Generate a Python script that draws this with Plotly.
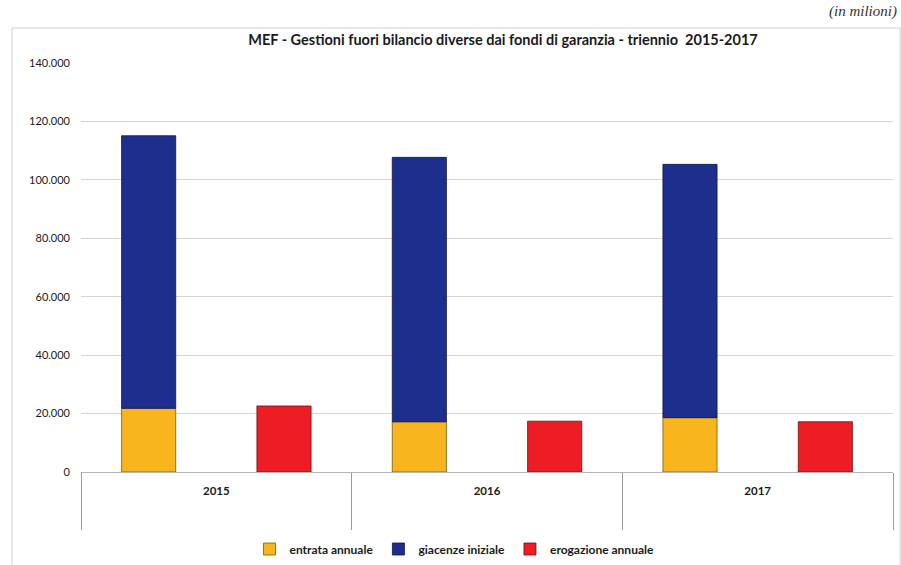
import plotly.graph_objects as go

# Gestioni fuori bilancio MEF, importi in milioni
anni = ["2015", "2016", "2017"]
entrata_annuale = [21800, 17200, 18600]
giacenze_iniziale = [93300, 90500, 86700]
erogazione_annuale = [22600, 17400, 17200]

y_ticks = [0, 20000, 40000, 60000, 80000, 100000, 120000, 140000]

FONT = "Lato, 'Open Sans', sans-serif"
ORANGE = "#F9B51E"
NAVY = "#1E2E8C"
RED = "#EE1C24"

fig = go.Figure()

# Colonna sinistra: entrata annuale con le giacenze impilate sopra
fig.add_trace(go.Bar(
    name="entrata annuale", x=anni, y=entrata_annuale,
    offset=-0.35, width=0.2,
    marker=dict(color=ORANGE, line=dict(color="#7a5a10", width=0.8)),
))
fig.add_trace(go.Bar(
    name="giacenze iniziale", x=anni, y=giacenze_iniziale,
    base=entrata_annuale,
    offset=-0.35, width=0.2,
    marker=dict(color=NAVY, line=dict(color="#0d1450", width=0.8)),
))
# Colonna destra: erogazione annuale
fig.add_trace(go.Bar(
    name="erogazione annuale", x=anni, y=erogazione_annuale,
    offset=0.15, width=0.2,
    marker=dict(color=RED, line=dict(color="#6a1010", width=0.8)),
))

fig.update_layout(
    width=901, height=565,
    barmode="overlay",
    separators=",.",
    paper_bgcolor="white",
    plot_bgcolor="white",
    margin=dict(l=81, r=8, t=63, b=93, autoexpand=False),
    font=dict(family=FONT, color="#222222"),
    title=dict(
        text="<b>MEF - Gestioni fuori bilancio diverse dai fondi di garanzia - triennio  2015-2017</b>",
        x=503 / 901, xanchor="center", y=1 - 40 / 565, yanchor="middle",
        font=dict(size=14.5, family=FONT, color="#1a1a1a"),
    ),
    xaxis=dict(
        type="category",
        range=[-0.5, 2.5],
        automargin=False,
        tickson="boundaries",
        ticks="outside", ticklen=57, tickwidth=1, tickcolor="#9a9a9a",
        showline=True, linecolor="#b5b5b5", linewidth=1,
        showgrid=False,
        ticklabelstandoff=8,
        tickfont=dict(size=11.5, family=FONT, color="#1a1a1a", weight="bold"),
    ),
    yaxis=dict(
        range=[0, 140000],
        automargin=False,
        tickvals=y_ticks,
        tickformat=",d",
        showgrid=True, gridcolor="#d4d4d4", gridwidth=1,
        zeroline=False, showline=False,
        ticks="", ticklabelstandoff=10,
        tickfont=dict(size=11, family=FONT, color="#1a1a1a"),
    ),
    legend=dict(
        orientation="h", x=0.46, xanchor="center",
        yref="container", y=(565 - 549) / 565, yanchor="middle",
        font=dict(size=12, family=FONT, color="#1a1a1a", weight="bold"),
        itemwidth=30, traceorder="normal",
    ),
    showlegend=True,
)

# Cornice dell'area grafico
fig.add_shape(
    type="rect", xref="paper", yref="paper",
    x0=(12 - 81) / 812, x1=(900 - 81) / 812,
    y0=(472 - 566) / 409, y1=(472 - 28) / 409,
    line=dict(color="#d0d0d0", width=1), fillcolor="rgba(0,0,0,0)", layer="below",
)

# Unita di misura in alto a destra
fig.add_annotation(
    text="(in milioni)", xref="paper", yref="paper",
    x=(899 - 81) / 812, xanchor="right",
    y=(472 - 11) / 409, yanchor="middle",
    showarrow=False,
    font=dict(size=15, family="'Liberation Serif', serif", color="#333333", style="italic"),
)

fig.write_html("out.html")
